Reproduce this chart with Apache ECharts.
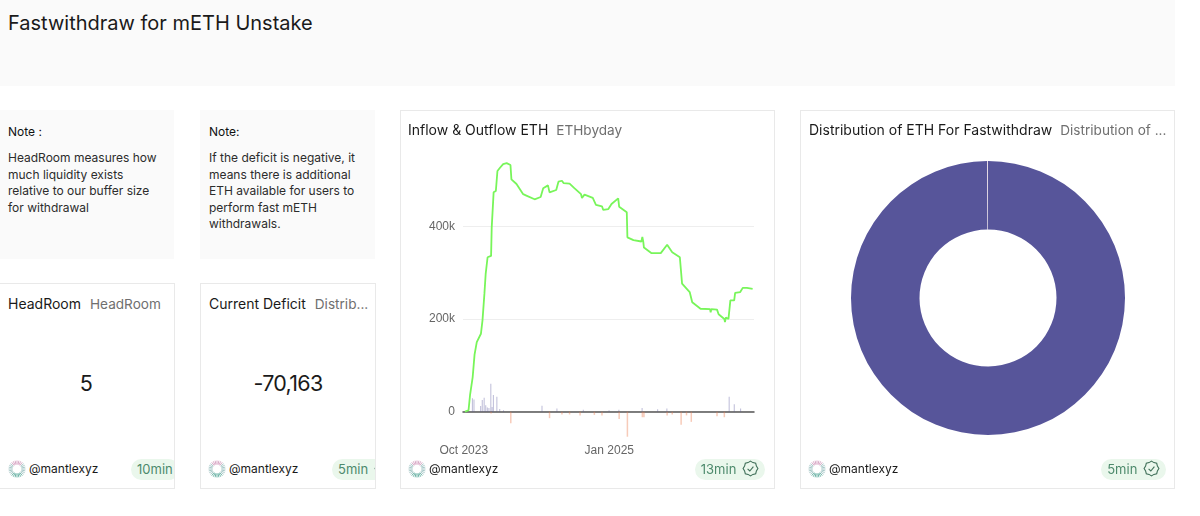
<!DOCTYPE html>
<html lang="en">
<head>
<meta charset="UTF-8">
<title>Fastwithdraw for mETH Unstake</title>
<script src="https://cdn.jsdelivr.net/npm/echarts@6/dist/echarts.min.js"></script>
<style>
    html,body{margin:0;padding:0;background:#fff;width:1200px;height:516px;overflow:hidden;font-family:Inter,"Noto Sans",sans-serif;color:#1a1a1a}
    .box{position:absolute;box-sizing:border-box;overflow:hidden}
    .grey{background:#fafafa}
    .card{background:#fff;border:1px solid #e9e9e9}
    .main-title{position:absolute;left:8px;top:11px;font-size:20px;line-height:24px}
    .note-head{position:absolute;left:8px;top:14px;font-size:12px;line-height:16px;color:#111}
    .note-body{position:absolute;left:8px;top:40px;font-size:12px;line-height:16.6px;color:#2c2c2c;white-space:nowrap}
    .head{position:absolute;left:8px;top:11px;font-size:14px;line-height:18px;white-space:nowrap}
    .head span{color:#6f6f6f;font-size:13.6px;margin-left:5px}
    .stat{position:absolute;left:0;right:0;top:85px;text-align:center;font-size:21.5px;line-height:28px;letter-spacing:-.7px}
    .foot{position:absolute;left:7px;bottom:10px;height:18px;font-size:12px;line-height:18px;white-space:nowrap}
    .foot svg{position:absolute;left:0;top:0}
    .foot b{position:absolute;left:21px;top:0;font-weight:400}
    .pill{position:absolute;top:175px;height:21px;border-radius:11px;background:#eaf7ec;color:#4d8a6c;font-size:13px;line-height:21px;padding:0 6px 0 6px;white-space:nowrap}
    .pill svg{vertical-align:-3px;margin-left:2px}
    .plot{position:absolute;left:0;top:0;width:375px;height:378px}
</style>
</head>
<body>
<div class="box grey" style="left:0;top:0;width:1175px;height:86px"><div class="main-title">Fastwithdraw for mETH Unstake</div></div>

<div class="box grey" style="left:0;top:110px;width:174px;height:149px">
    <div class="note-head">Note :</div>
    <div class="note-body">HeadRoom measures how<br>much liquidity exists<br>relative to our buffer size<br>for withdrawal</div>
</div>
<div class="box grey" style="left:200px;top:110px;width:175px;height:149px">
    <div class="note-head" style="left:9px">Note:</div>
    <div class="note-body" style="left:9px">If the deficit is negative, it<br>means there is additional<br>ETH available for users to<br>perform fast mETH<br>withdrawals.</div>
</div>

<div class="box card" style="left:-1px;top:283px;width:176px;height:206px">
    <div class="head" style="left:8px">HeadRoom<span style="margin-left:9px">HeadRoom</span></div>
    <div class="stat" style="right:2px">5</div>
    <div class="foot" style="left:8px"><svg class="burst" width="18" height="18"></svg><b>@mantlexyz</b></div>
    <div class="pill" style="left:131px">10min</div>
</div>
<div class="box card" style="left:200px;top:283px;width:176px;height:206px">
    <div class="head">Current Deficit<span style="margin-left:9px">Distrib...</span></div>
    <div class="stat">-70,163</div>
    <div class="foot"><svg class="burst" width="18" height="18"></svg><b>@mantlexyz</b></div>
    <div class="pill" style="left:131px">5min <svg class="tick" width="17" height="17"></svg></div>
</div>

<div class="box card" style="left:400px;top:110px;width:375px;height:379px">
    <div id="flow" class="plot"></div>
    <div class="head" style="left:7px;top:10px">Inflow &amp; Outflow ETH<span style="margin-left:8px">ETHbyday</span></div>
    <div class="foot"><svg class="burst" width="18" height="18"></svg><b>@mantlexyz</b></div>
    <div class="pill" style="right:9px;top:348px">13min <svg class="tick" width="17" height="17"></svg></div>
</div>

<div class="box card" style="left:800px;top:110px;width:375px;height:379px">
    <div id="pie" class="plot"></div>
    <div class="head" style="top:10px">Distribution of ETH For Fastwithdraw<span style="margin-left:8px">Distribution of ...</span></div>
    <div class="foot"><svg class="burst" width="18" height="18"></svg><b>@mantlexyz</b></div>
    <div class="pill" style="right:8px;top:348px">5min <svg class="tick" width="17" height="17"></svg></div>
</div>

<script type="text/javascript">
    // days counted from 1 Oct 2023, values in thousands of ETH
    var startDate = Date.UTC(2023, 9, 1);
    var endDay = 911;
    var yTicks = [0, 200, 400];
    var xTicks = [Date.UTC(2023, 9, 1), Date.UTC(2025, 0, 1)];

    var balanceDays = [4,15,20,28,34,41,54,59,65,69,75,86,88,94,101,106,114,124,135,147,150,166,187,197,223,242,250,265,270,291,298,309,314,333,348,369,372,380,406,416,435,439,455,465,486,489,513,515,534,559,562,565,567,590,620,640,656,680,687,711,719,745,775,777,779,797,802,820,822,825,833,839,851,854,870,878,891,909];
    var balanceValues = [0,3,37,74,123,150,168,197,254,297,333,336,397,473,476,519,526,534,536,532,501,491,469,466,458,463,482,488,473,478,496,498,493,492,482,469,461,468,461,446,443,435,437,448,460,442,430,376,370,367,377,366,354,342,342,360,344,333,276,258,236,222,221,214,221,220,210,200,193,203,200,240,240,256,258,267,267,265];

    var inflowDays = [28,33,54,59,65,70,75,80,86,90,94,105,114,126,247,294,377,458,489,562,611,640,836,852,872];
    var inflowValues = [29,26,12,25,30,14,9,8,60,10,36,32,6,3,13,7,4,3,4,8,5,7,32,16,7];

    var outflowDays = [86,148,270,309,333,366,411,435,489,515,562,567,640,656,684,701,716,797,820];
    var outflowValues = [-4,-25,-14,-6,-6,-8,-7,-8,-16,-54,-12,-12,-8,-6,-28,-8,-22,-10,-12];

    var pieNames = ["ETH For Fastwithdraw", "Other"];
    var pieValues = [99.9, 0.1];

    function dayTime(d) { return startDate + d * 86400000; }
    function pairs(days, values) {
        return days.map(function (d, i) { return [dayTime(d), values[i]]; });
    }

    var flowChart = echarts.init(document.getElementById('flow'));
    flowChart.setOption({
        animation: false,
        useUTC: true,
        grid: {left: 62, right: 22, top: 41, bottom: 49.5},
        xAxis: {
            type: 'time',
            min: dayTime(0),
            max: dayTime(endDay),
            axisLine: {onZero: true, lineStyle: {color: '#555', width: 1.5}},
            axisTick: {show: false},
            splitLine: {show: false},
            axisLabel: {
                customValues: xTicks,
                margin: 5,
                color: '#666',
                fontSize: 12,
                fontFamily: 'Liberation Sans',
                formatter: '{MMM} {yyyy}'
            }
        },
        yAxis: {
            type: 'value',
            min: -60,
            max: 560,
            axisLine: {show: false},
            axisTick: {show: false, customValues: yTicks},
            splitLine: {lineStyle: {color: '#eeeeee'}},
            axisLabel: {
                customValues: yTicks,
                margin: 8,
                color: '#666',
                fontSize: 12,
                fontFamily: 'Liberation Sans',
                formatter: function (v) { return v === 0 ? '0' : v + 'k'; }
            }
        },
        series: [
            {name: 'Inflow', type: 'bar', barWidth: 1, barGap: '-100%', data: pairs(inflowDays, inflowValues),
                itemStyle: {color: 'rgba(87,85,154,0.4)'}},
            {name: 'Outflow', type: 'bar', barWidth: 1.5, barGap: '-100%', data: pairs(outflowDays, outflowValues),
                itemStyle: {color: 'rgba(235,125,80,0.4)'}},
            {name: 'Balance', type: 'line', showSymbol: false, data: pairs(balanceDays, balanceValues),
                lineStyle: {color: '#78f55a', width: 1.8}, itemStyle: {color: '#78f55a'}}
        ]
    });

    var pieChart = echarts.init(document.getElementById('pie'));
    pieChart.setOption({
        animation: false,
        series: [{
            type: 'pie',
            center: [187, 187],
            radius: [68.5, 137],
            startAngle: 90,
            label: {show: false},
            labelLine: {show: false},
            data: pieNames.map(function (n, i) { return {name: n, value: pieValues[i]}; }),
            color: ['#57559a', '#e6d9e4']
        }]
    });

    // small author avatar and freshness badge
    var burstColors = ['#d9a9c6', '#a9c9c9', '#6fb5a8', '#a9c9c9'];
    document.querySelectorAll('.burst').forEach(function (svg) {
        var s = '';
        for (var i = 0; i < 28; i++) {
            var a = i / 28 * Math.PI * 2;
            var c = burstColors[Math.floor(((i + 3.5) % 28) / 7)];
            s += '<line x1="' + (9 + 4.5 * Math.sin(a)) + '" y1="' + (9 - 4.5 * Math.cos(a)) + '" x2="' + (9 + 8.5 * Math.sin(a)) +
                '" y2="' + (9 - 8.5 * Math.cos(a)) + '" stroke="' + c + '" stroke-width="1"/>';
        }
        svg.innerHTML = s;
    });
    document.querySelectorAll('.tick').forEach(function (svg) {
        var p = '';
        for (var i = 0; i < 16; i++) {
            var a = i / 16 * Math.PI * 2, r = i % 2 ? 6.4 : 7.4;
            p += (8.5 + r * Math.sin(a)).toFixed(1) + ',' + (8.5 - r * Math.cos(a)).toFixed(1) + ' ';
        }
        svg.innerHTML = '<polygon points="' + p + '" fill="none" stroke="#3f6f58" stroke-width="1.1"/>' +
            '<polyline points="5.6,8.8 7.8,11 11.4,6.6" fill="none" stroke="#3f6f58" stroke-width="1.1"/>';
    });
</script>
</body>
</html>
